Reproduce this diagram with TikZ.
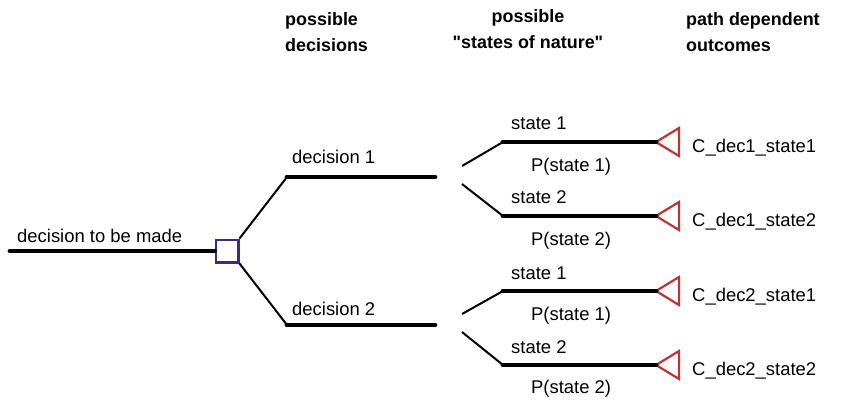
\documentclass[tikz,border=0pt]{standalone}
\usepackage{fontspec}
\setmainfont{Liberation Sans}
\usetikzlibrary{shapes,positioning}
\definecolor{decpurple}{RGB}{62,40,140}
\definecolor{outred}{RGB}{190,52,52}
\tikzstyle{Decision} = [draw=decpurple, line width=2.5bp, rectangle, minimum size=22.5bp, inner sep=0pt]
\tikzstyle{Outcome} = [draw=outred, line width=2.2bp, isosceles triangle, isosceles triangle stretches, shape border rotate=180, minimum width=28bp, minimum height=23bp, inner sep=0pt, outer sep=0pt]
\tikzstyle{Text} = [inner sep=0pt, font=\fontsize{18.5}{22}\selectfont]
\tikzstyle{Head} = [inner sep=0pt, font=\fontsize{18}{26}\selectfont\bfseries]
\tikzstyle{Branch} = [line width=4.8bp, line cap=round]
\tikzstyle{Twig} = [line width=2bp]

\begin{document}
\begin{tikzpicture}[x=1bp, y=-1bp]
    \useasboundingbox (0,0) rectangle (854,400);
    % headers
    \node[Head, anchor=north west, align=left]   (h_decisions) at (285,12) {possible\\decisions};
    \node[Head, anchor=north, align=center]      (h_states)    at (528,9)  {possible\\\textquotedbl states of nature\textquotedbl};
    \node[Head, anchor=north west, align=left]   (h_outcomes)  at (686,12) {path dependent\\outcomes};
    % decision node
    \coordinate (root) at (10,251);
    \node[Decision] (choice) at (227,251) {};
    \node[Text, anchor=base west] (l_root) at (17,242) {decision to be made};
    \draw[Branch] (root) -- (choice.west);
    % decisions
    \coordinate (d1_in)  at (287,177);
    \coordinate (d1_out) at (435,177);
    \coordinate (d2_in)  at (287,325);
    \coordinate (d2_out) at (435,325);
    \node[Text, anchor=base west] (l_dec1) at (292,163) {decision 1};
    \node[Text, anchor=base west] (l_dec2) at (292,315) {decision 2};
    \draw[Twig]   (choice.north east) -- (d1_in);
    \draw[Branch] (d1_in) -- (d1_out);
    \draw[Twig]   (choice.south east) -- (d2_in);
    \draw[Branch] (d2_in) -- (d2_out);
    % states of nature
    \coordinate (f1_up)   at (462,166);
    \coordinate (f1_down) at (462,184);
    \coordinate (f2_up)   at (462,314);
    \coordinate (f2_down) at (462,332);
    \coordinate (s11) at (503,142);
    \coordinate (s12) at (503,216);
    \coordinate (s21) at (503,291);
    \coordinate (s22) at (503,365);
    \node[Text, anchor=base west] (l_s11) at (511,129) {state 1};
    \node[Text, anchor=base west] (l_s12) at (511,203) {state 2};
    \node[Text, anchor=base west] (l_s21) at (511,279) {state 1};
    \node[Text, anchor=base west] (l_s22) at (511,353) {state 2};
    \node[Text, anchor=base west] (p_s11) at (531,171) {P(state 1)};
    \node[Text, anchor=base west] (p_s12) at (531,245) {P(state 2)};
    \node[Text, anchor=base west] (p_s21) at (531,320) {P(state 1)};
    \node[Text, anchor=base west] (p_s22) at (531,393) {P(state 2)};
    % outcomes
    \node[Outcome, anchor=apex] (o11) at (656,142) {};
    \node[Outcome, anchor=apex] (o12) at (656,216) {};
    \node[Outcome, anchor=apex] (o21) at (656,291) {};
    \node[Outcome, anchor=apex] (o22) at (656,365) {};
    \node[Text, anchor=base west] (c11) at (692,152) {C\_dec1\_state1};
    \node[Text, anchor=base west] (c12) at (692,226) {C\_dec1\_state2};
    \node[Text, anchor=base west] (c21) at (692,301) {C\_dec2\_state1};
    \node[Text, anchor=base west] (c22) at (692,375) {C\_dec2\_state2};
    \draw[Twig]   (f1_up)   -- (s11);
    \draw[Branch] (s11)     -- (o11.apex);
    \draw[Twig]   (f1_down) -- (s12);
    \draw[Branch] (s12)     -- (o12.apex);
    \draw[Twig]   (f2_up)   -- (s21);
    \draw[Branch] (s21)     -- (o21.apex);
    \draw[Twig]   (f2_down) -- (s22);
    \draw[Branch] (s22)     -- (o22.apex);
\end{tikzpicture}
\end{document}
